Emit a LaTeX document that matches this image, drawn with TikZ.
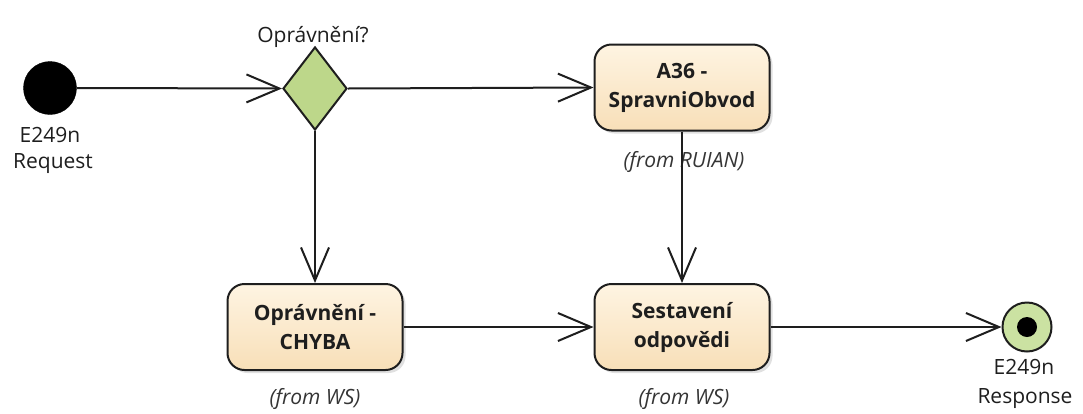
\documentclass[tikz,border=0pt]{standalone}
\usepackage{fontspec}
\setmainfont{Open Sans}
\usetikzlibrary{shapes.geometric,arrows.meta,shadows}
\definecolor{boxtop}{HTML}{FEF4E2}
\definecolor{boxbot}{HTML}{F8DFB8}
\definecolor{decgreen}{HTML}{BDD78A}
\definecolor{endgreen}{HTML}{CBE2A2}
\definecolor{ink}{HTML}{1E1E1E}
\tikzset{
  lbl/.style={font=\fontsize{21}{27}\selectfont, text=ink, inner sep=0pt},
  fromlbl/.style={font=\itshape\fontsize{21}{27}\selectfont, text=ink!90, inner sep=0pt},
  actbox/.style={draw=ink, line width=2pt, rounded corners=17pt, top color=boxtop, bottom color=boxbot,
    minimum width=175pt, minimum height=86pt, align=center, inner sep=0pt,
    font=\bfseries\fontsize{21}{29}\selectfont, text=ink,
    drop shadow={shadow xshift=3pt, shadow yshift=-3pt, opacity=0.2, fill=black!60}},
  startnode/.style={circle, fill=black, draw=black, minimum size=53pt, inner sep=0pt},
  decnode/.style={diamond, draw=ink, line width=2pt, fill=decgreen, minimum width=64pt, minimum height=83pt, inner sep=0pt},
  endnode/.style={circle, draw=ink, line width=2pt, fill=endgreen, minimum size=49pt, inner sep=0pt},
  enddot/.style={circle, fill=black, minimum size=20pt, inner sep=0pt},
  flow/.style={draw=ink, line width=2pt, -{Straight Barb[length=33pt, width=28pt, line width=2pt]}}
}
\begin{document}
\begin{tikzpicture}[x=1pt,y=-1pt]
\useasboundingbox (0,0) rectangle (1083,413);
\fill[white] (0,0) rectangle (1083,413);
% nodes
\node[startnode] (start) at (50,88) {};
\node[lbl, anchor=base] (startl1) at (50,142) {E249n};
\node[lbl, anchor=base] (startl2) at (53,168) {Request};

\node[decnode] (dec) at (315,88.5) {};
\node[lbl, anchor=base] (decl) at (313,42) {Oprávnění?};

\node[actbox] (a36) at (682,87.5) {A36 -\\SpravniObvod};
\node[fromlbl, anchor=base] (a36f) at (684,167) {(from RUIAN)};

\node[actbox] (chyba) at (315,327) {Oprávnění -\\CHYBA};
\node[fromlbl, anchor=base] (chybaf) at (315,404) {(from WS)};

\node[actbox] (sest) at (682,327) {Sestavení\\odpovědi};
\node[fromlbl, anchor=base] (sestf) at (684,404) {(from WS)};

\node[endnode] (fin) at (1027,327) {};
\node[enddot] (findot) at (fin.center) {};
\node[lbl, anchor=base] (finl1) at (1024,374) {E249n};
\node[lbl, anchor=base] (finl2) at (1025,403) {Response};

% connectors
\draw[flow] (start.east) -- (dec.west);
\draw[flow] (dec.east) -- (a36.west);
\draw[flow] (dec.south) -- (chyba.north);
\draw[flow] (a36.south) -- (sest.north);
\draw[flow] (chyba.east) -- (sest.west);
\draw[flow] (sest.east) -- (fin.west);
\end{tikzpicture}
\end{document}
